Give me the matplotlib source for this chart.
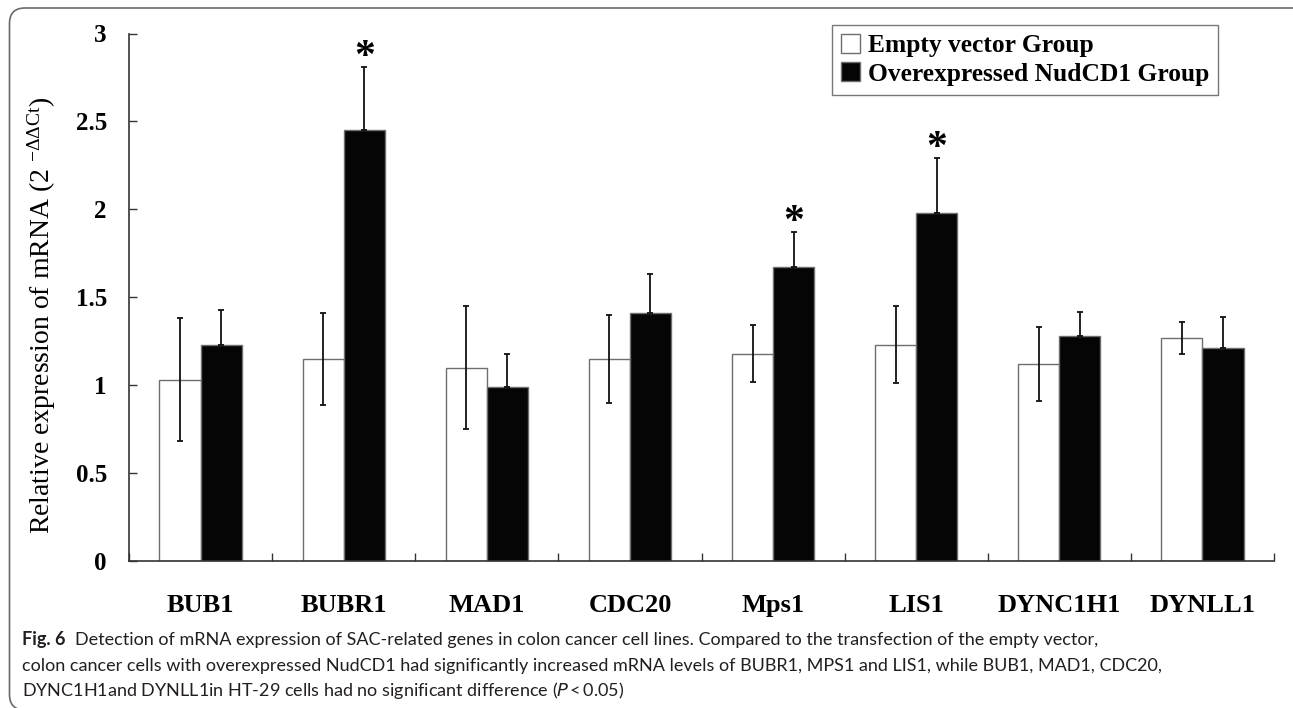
import numpy as np
import matplotlib
matplotlib.use("Agg")
import matplotlib.pyplot as plt
from matplotlib.patches import FancyBboxPatch

# Relative mRNA expression (2^-ddCt), mean and SD for each gene
genes = ["BUB1", "BUBR1", "MAD1", "CDC20", "Mps1", "LIS1", "DYNC1H1", "DYNLL1"]
empty_mean = [1.03, 1.15, 1.10, 1.15, 1.18, 1.23, 1.12, 1.27]
empty_sd = [0.35, 0.26, 0.35, 0.25, 0.16, 0.22, 0.21, 0.09]
over_mean = [1.23, 2.45, 0.99, 1.41, 1.67, 1.98, 1.28, 1.21]
over_sd = [0.20, 0.36, 0.19, 0.22, 0.20, 0.31, 0.135, 0.175]
significant = ["BUBR1", "Mps1", "LIS1"]

caption_head = "Fig. 6"
caption_lines = [
    "Detection of mRNA expression of SAC-related genes in colon cancer cell lines. Compared to the transfection of the empty vector,",
    "colon cancer cells with overexpressed NudCD1 had significantly increased mRNA levels of BUBR1, MPS1 and LIS1, while BUB1, MAD1, CDC20,",
    "DYNC1H1and DYNLL1in HT-29 cells had no significant difference ($\\mathit{P}$\u2009<\u20090.05)",
]

plt.rcParams["font.family"] = ["Liberation Serif", "DejaVu Serif"]
plt.rcParams["mathtext.default"] = "regular"

W, H = 1293, 708
fig = plt.figure(figsize=(W / 100, H / 100), dpi=100)

# axes placed in pixel units
x0, x1, y_top, y_bot = 129, 1274, 33.5, 561
ax = fig.add_axes([x0 / W, 1 - y_bot / H, (x1 - x0) / W, (y_bot - y_top) / H])

x = np.arange(len(genes))
bw = 0.287
edge = "#6e6e6e"

ax.bar(x - bw / 2, empty_mean, bw, color="white", edgecolor=edge, linewidth=1.0,
       label="Empty vector Group", zorder=2)
ax.bar(x + bw / 2, over_mean, bw, color="#050505", edgecolor=edge, linewidth=1.0,
       label="Overexpressed NudCD1 Group", zorder=2)

ax.errorbar(x - bw / 2, empty_mean, yerr=empty_sd, fmt="none", ecolor="#111111",
            elinewidth=1.3, capsize=2, capthick=1.3, zorder=3)
ax.errorbar(x + bw / 2, over_mean, yerr=[np.zeros(len(genes)), over_sd], fmt="none",
            ecolor="#111111", elinewidth=1.3, capsize=2, capthick=1.3, zorder=3)

# significance stars above the NudCD1 bars
for i, g in enumerate(genes):
    if g in significant:
        ax.annotate("*", xy=(x[i] + bw / 2, over_mean[i] + over_sd[i]),
                    xytext=(0, -7), textcoords="offset points", ha="center", va="bottom",
                    fontsize=30, fontweight="bold")

ax.set_xlim(-0.5, len(genes) - 0.5)
ax.set_ylim(0, 3)
ax.set_yticks([0, 0.5, 1, 1.5, 2, 2.5, 3])
ax.set_yticklabels(["0", "0.5", "1", "1.5", "2", "2.5", "3"], fontsize=18, fontweight="bold")
ax.set_xticks(x)
ax.set_xticklabels(genes, fontsize=19, fontweight="bold")
ax.set_xticks(np.arange(len(genes) + 1) - 0.5, minor=True)
ax.tick_params(axis="x", which="major", length=0, pad=24)
ax.tick_params(axis="x", which="minor", direction="in", length=5.5, width=1, color="#333333")
ax.tick_params(axis="y", direction="in", length=5.5, width=1, color="#333333", pad=16)

for side in ["top", "right"]:
    ax.spines[side].set_visible(False)
for side in ["left", "bottom"]:
    ax.spines[side].set_color("#333333")
    ax.spines[side].set_linewidth(1.2)

ax.set_ylabel("Relative expression of mRNA (2 $^{-\u0394\u0394Ct}$)", fontsize=20)
ax.yaxis.set_label_coords(-0.062, 0.466)

leg = fig.legend(loc="upper left", bbox_to_anchor=(832 / W, 1 - 25 / H),
                 prop={"family": "Liberation Serif", "weight": "bold", "size": 18.4},
                 handlelength=0.75, handleheight=0.75, handletextpad=0.3,
                 borderpad=0.35, labelspacing=0.2, fancybox=False, framealpha=1,
                 edgecolor="#777777", borderaxespad=0)
leg.get_frame().set_linewidth(1.0)

# caption under the chart
cap_kw = dict(family=["Lato", "DejaVu Sans"], fontsize=13, color="#231f20")
head = fig.text(22 / W, 1 - 645 / H, caption_head, fontweight="bold", va="baseline", **cap_kw)
fig.add_artist(plt.Annotation(caption_lines[0], xy=(1, 0), xycoords=head,
                              xytext=(7, 0), textcoords="offset points",
                              va="bottom", **cap_kw))
for k, line in enumerate(caption_lines[1:], start=1):
    fig.text(22 / W, 1 - (645 + 25.5 * k) / H, line, va="baseline", **cap_kw)

# rounded frame around the figure panel
frame = FancyBboxPatch((9.5 / W, 1 - 710 / H), (1310 - 9.5) / W, (710 - 8) / H,
                       boxstyle="round,pad=0,rounding_size=0.012",
                       transform=fig.transFigure, fill=False, edgecolor="#6a6a6a",
                       linewidth=1.2, mutation_aspect=W / H, clip_on=False)
fig.add_artist(frame)

fig.savefig("out.png", dpi=100)
